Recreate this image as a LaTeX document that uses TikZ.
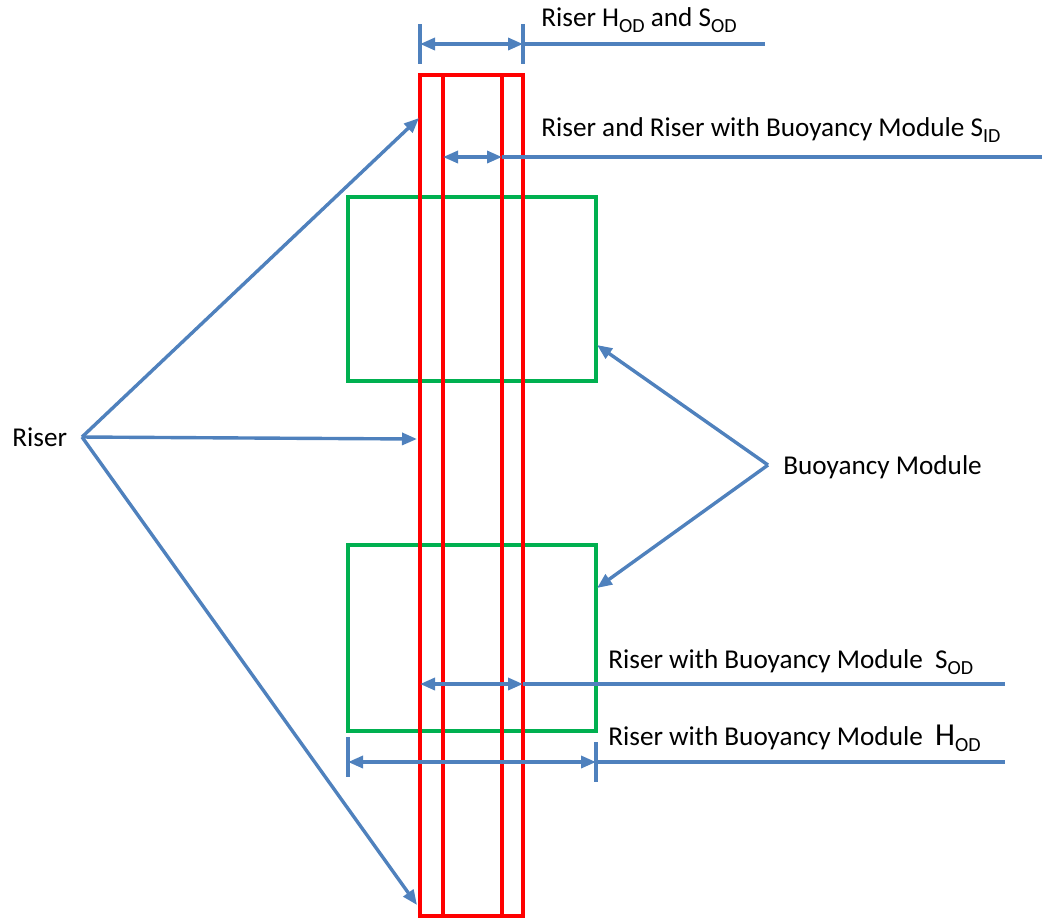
\documentclass[tikz,border=0pt]{standalone}
\usepackage{fontspec}
\setmainfont{Carlito}
\usetikzlibrary{arrows.meta}
\definecolor{bl}{RGB}{79,129,189}
\definecolor{gr}{RGB}{0,176,80}
\newcommand\lowsub[1]{\raisebox{-0.45ex}{\fontsize{10}{10}\selectfont #1}}
\begin{document}
\begin{tikzpicture}[x=0.5pt,y=-0.5pt,
 conn/.style={draw=bl,line width=1.7pt},
 arr/.style={conn,-{Triangle[length=7.5pt,width=6pt]}},
 darr/.style={conn,{Triangle[length=7.5pt,width=6pt]}-{Triangle[length=7.5pt,width=6pt]}},
 pipe/.style={draw=red,line width=1.6pt},
 module/.style={draw=gr,line width=1.6pt},
 lbl/.style={font=\fontsize{13.6}{16}\selectfont,inner sep=0pt,anchor=west}]
\useasboundingbox (0,0) rectangle (1042,918);
% modules
\draw[module] (348,197) rectangle (596,381);
\draw[module] (348,545) rectangle (596,731);
% riser pipe
\draw[pipe] (420,75) rectangle (523,916);
\draw[pipe] (443,75) -- (443,916);
\draw[pipe] (502,75) -- (502,916);
% coordinates
\coordinate (rhub) at (82,437);
\coordinate (bhub) at (768,465);
\coordinate (rt1) at (419,118);
\coordinate (rt2) at (417,439);
\coordinate (rt3) at (417,905);
\coordinate (bt1) at (597,345);
\coordinate (bt2) at (597,588);
\coordinate (hodL) at (420,44);
\coordinate (hodR) at (523,44);
\coordinate (hodE) at (765,44);
\coordinate (sidL) at (443,157);
\coordinate (sidR) at (502,157);
\coordinate (sidE) at (1042,157);
\coordinate (sodL) at (420,684);
\coordinate (sodR) at (523,684);
\coordinate (sodE) at (1005,684);
\coordinate (bodL) at (348,762);
\coordinate (bodR) at (596,762);
\coordinate (bodE) at (1005,762);
% labels
\node[lbl] (lriser) at (12,437) {Riser};
\node[lbl] (lbm) at (783,467) {Buoyancy Module};
\node[lbl] (lhod) at (541,20) {Riser H\lowsub{OD} and S\lowsub{OD}};
\node[lbl] (lsid) at (541,130) {Riser and Riser with Buoyancy Module S\lowsub{ID}};
\node[lbl] (lsod) at (608,662) {Riser with Buoyancy Module\ \ S\lowsub{OD}};
\node[lbl] (lbod) at (608,738) {Riser with Buoyancy Module\ \ {\fontsize{16}{16}\selectfont H}\lowsub{OD}};
% riser pointers
\draw[arr] (rhub) -- (rt1);
\draw[arr] (rhub) -- (rt2);
\draw[arr] (rhub) -- (rt3);
% buoyancy pointers
\draw[arr] (bhub) -- (bt1);
\draw[arr] (bhub) -- (bt2);
% top dimension
\draw[conn] (420,24) -- (420,64);
\draw[conn] (523,24) -- (523,64);
\draw[darr] (hodL) -- (hodR);
\draw[conn] (hodR) -- (hodE);
% S_ID
\draw[darr] (sidL) -- (sidR);
\draw[conn] (sidR) -- (sidE);
% S_OD
\draw[darr] (sodL) -- (sodR);
\draw[conn] (sodR) -- (sodE);
% H_OD
\draw[conn] (348,737) -- (348,777);
\draw[conn] (596,742) -- (596,782);
\draw[darr] (bodL) -- (bodR);
\draw[conn] (bodR) -- (bodE);
\end{tikzpicture}
\end{document}
